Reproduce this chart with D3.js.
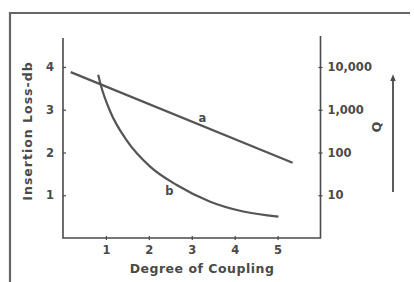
<!DOCTYPE html>
<meta charset="utf-8">
<style>
  body { margin: 0; background: #fff; }
  text { fill: #4a4a4a; font-family: 'DejaVu Sans', sans-serif; font-weight: bold; }
</style>
<body>
<script src="https://d3js.org/d3.v7.min.js"></script>
<script>

// x tick values and left/right axis ticks
var xTicks = [1, 2, 3, 4, 5];
var lossTicks = [1, 2, 3, 4];
var qTicks = [10, 100, 1000, 10000];

// curve a (straight line) and curve b, [coupling, insertion loss]
var curveA = [[0.18, 3.88], [5.35, 1.76]];
var curveB = [[0.82, 3.82], [0.88, 3.58], [1.10, 2.96], [1.48, 2.29], [2.03, 1.67],
              [2.65, 1.24], [3.43, 0.85], [4.2, 0.62], [5.02, 0.50]];

var width = 414, height = 282;
var ink = "#4a4a4a";

var svg = d3.select("body").append("svg")
    .attr("width", width)
    .attr("height", height);

// frame
svg.append("path")
    .attr("d", "M10,282 L10,13 L410,13")
    .attr("fill", "none")
    .attr("stroke", "#666")
    .attr("stroke-width", 2.2);

var x = d3.scaleLinear().domain([0, 6]).range([63, 320.5]);
var y = d3.scaleLinear().domain([0, 4]).range([238, 67]);
var yq = d3.scaleLog().domain([1, 10000]).range([238, 67]);

var axisStyle = function(g) {
  g.select(".domain").remove();
  g.selectAll("line").attr("stroke", ink).attr("stroke-width", 1.2);
  g.selectAll("text").style("font-size", "11.5px").attr("fill", ink);
};

// axes lines
svg.append("path")
    .attr("d", "M" + x(0) + "," + (y(4) - 29) + " L" + x(0) + "," + y(0) + " L" + x(6) + "," + y(0) + " L" + x(6) + "," + (y(4) - 31))
    .attr("fill", "none")
    .attr("stroke", ink)
    .attr("stroke-width", 1.6);

svg.append("g")
    .attr("transform", "translate(" + x(0) + ",0)")
    .call(d3.axisLeft(y).tickValues(lossTicks).tickFormat(d3.format("d")).tickSize(3).tickPadding(6))
    .call(axisStyle)
    .selectAll("line").attr("x2", 3);

svg.append("g")
    .attr("transform", "translate(0," + y(0) + ")")
    .call(d3.axisBottom(x).tickValues(xTicks).tickFormat(d3.format("d")).tickSize(2).tickPadding(6))
    .call(axisStyle)
    .selectAll("line").attr("y1", -2);

svg.append("g")
    .attr("transform", "translate(" + x(6) + ",0)")
    .call(d3.axisRight(yq).tickValues(qTicks).tickFormat(d3.format(",")).tickSize(2).tickPadding(5))
    .call(axisStyle)
    .selectAll("line").attr("x1", -2);

// curves
var line = d3.line()
    .x(function(d) { return x(d[0]); })
    .y(function(d) { return y(d[1]); })
    .curve(d3.curveMonotoneX);

[curveA, curveB].forEach(function(c) {
  svg.append("path")
      .datum(c)
      .attr("d", line)
      .attr("fill", "none")
      .attr("stroke", "#555")
      .attr("stroke-width", 2.2);
});

// curve labels
svg.append("text").attr("x", x(3.25)).attr("y", y(2.8) + 4)
    .attr("text-anchor", "middle").style("font-size", "11.5px").text("a");
svg.append("text").attr("x", x(2.48)).attr("y", y(1.1) + 4)
    .attr("text-anchor", "middle").style("font-size", "11.5px").text("b");

// titles
svg.append("text")
    .attr("transform", "translate(32,131) rotate(-90)")
    .attr("text-anchor", "middle")
    .style("font-size", "12.5px")
    .style("letter-spacing", "1px")
    .text("Insertion Loss-db");

svg.append("text")
    .attr("x", 202).attr("y", 273)
    .attr("text-anchor", "middle")
    .style("font-size", "12.5px")
    .style("letter-spacing", "0.5px")
    .text("Degree of Coupling");

svg.append("text")
    .attr("transform", "translate(381,127) rotate(-90)")
    .attr("text-anchor", "middle")
    .style("font-size", "12.5px")
    .text("Q");

// Q arrow
svg.append("defs").append("marker")
    .attr("id", "arr")
    .attr("viewBox", "0 0 10 10")
    .attr("refX", 2).attr("refY", 5)
    .attr("markerWidth", 4).attr("markerHeight", 4)
    .attr("orient", "auto")
  .append("path")
    .attr("d", "M0,1 L10,5 L0,9 Z")
    .attr("fill", ink);

svg.append("line")
    .attr("x1", 393).attr("x2", 393)
    .attr("y1", 192).attr("y2", 80)
    .attr("stroke", ink)
    .attr("stroke-width", 1.8)
    .attr("marker-end", "url(#arr)");

</script>
</body>
